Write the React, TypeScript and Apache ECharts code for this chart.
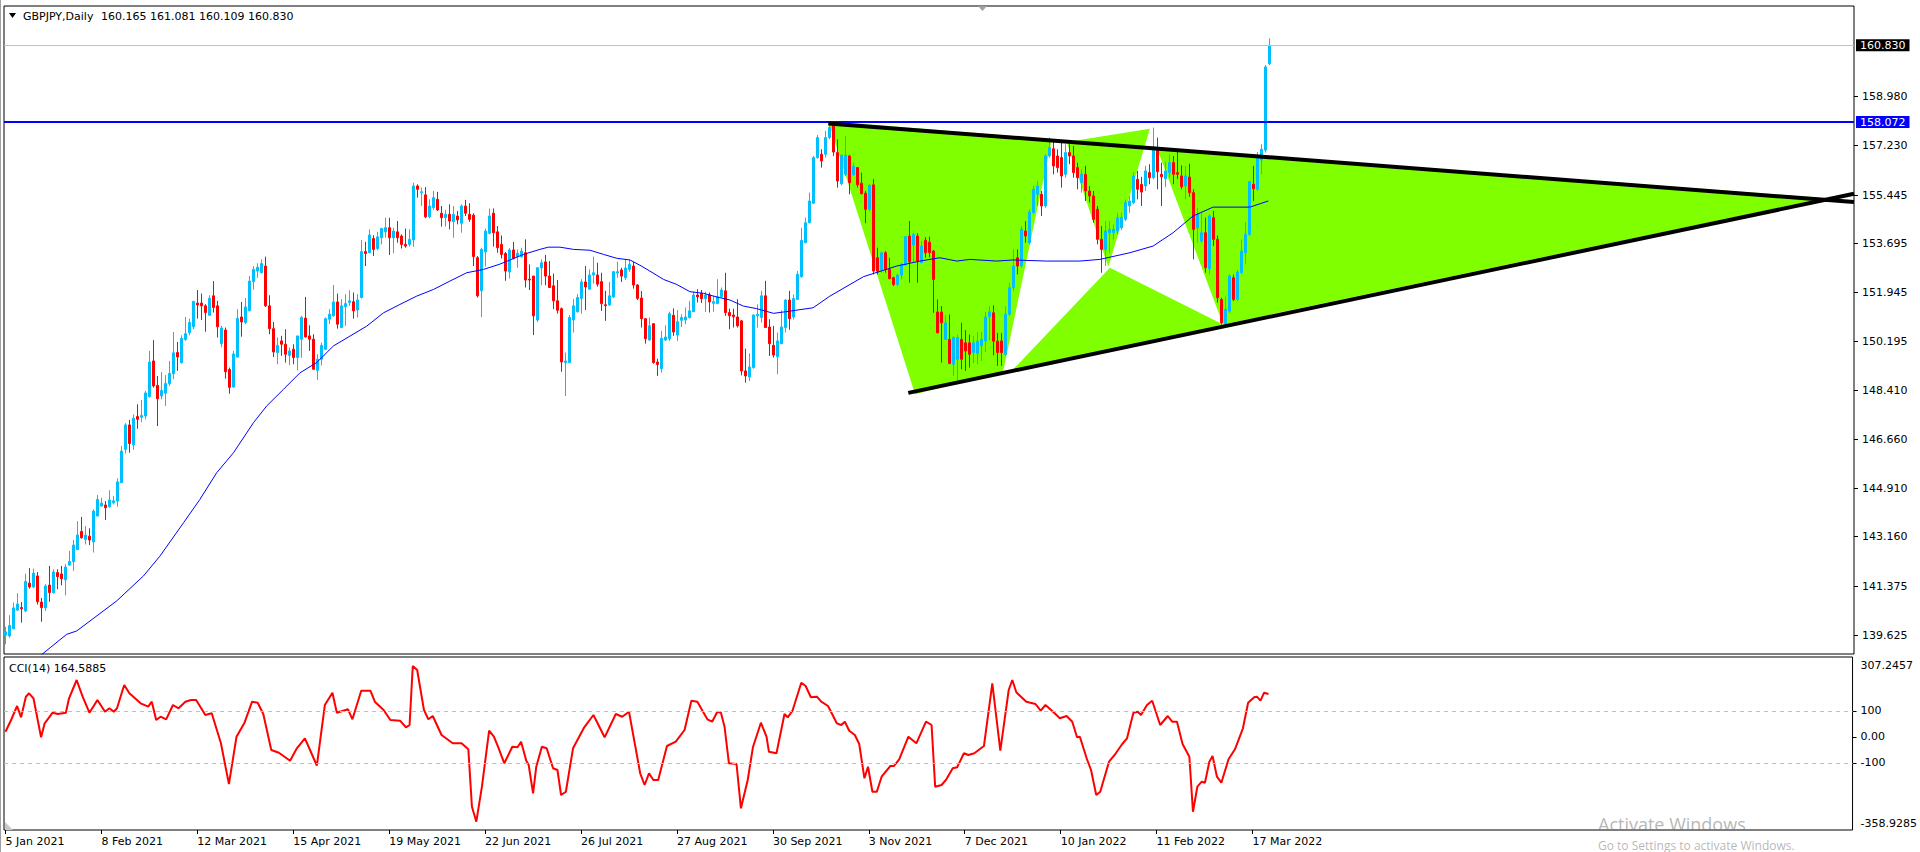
import React, { useEffect, useRef } from 'react';
import * as echarts from 'echarts';

const FONT = 'DejaVu Sans';
const symbolTitle = 'GBPJPY,Daily';
const lastOHLC = [160.165, 161.081, 160.109, 160.83];
const cciTitle = 'CCI(14)';
const cciLast = 164.5885;

const dateLabels = ['5 Jan 2021', '8 Feb 2021', '12 Mar 2021', '15 Apr 2021', '19 May 2021', '22 Jun 2021', '26 Jul 2021', '27 Aug 2021', '30 Sep 2021', '3 Nov 2021', '7 Dec 2021', '10 Jan 2022', '11 Feb 2022', '17 Mar 2022'];
const BARS_PER_LABEL = 24;
const priceTicks = [158.98, 157.23, 155.445, 153.695, 151.945, 150.195, 148.41, 146.66, 144.91, 143.16, 141.375, 139.625];
const cciTicks = [100, 0, -100];
const CCI_MAX = 307.2457;
const CCI_MIN = -358.9285;
const P_MIN = 138.942;
const P_MAX = 162.241;
const X_MIN = -0.375;
const X_MAX = 462.125;
const resistance = 158.072;
const bidPrice = 160.83;

// candles by bar index: [open, high, low, close]
const candles: number[][] = [
  [139.62,139.92,139.29,139.74],[139.59,140.34,139.53,139.97],[139.85,140.79,139.83,140.60],[140.52,141.13,140.49,140.74],
  [140.61,140.81,140.07,140.57],[140.49,141.83,140.45,141.55],[141.49,142.03,141.29,141.35],[141.35,142.01,141.31,141.85],
  [141.75,141.89,140.72,140.82],[140.81,140.96,140.10,140.61],[140.60,141.45,140.49,141.39],[141.42,142.11,140.82,141.15],
  [141.15,141.99,141.11,141.89],[141.87,141.99,141.27,141.72],[141.82,142.11,141.41,141.65],[141.61,142.17,141.05,142.07],
  [142.14,142.65,142.11,142.27],[142.26,143.04,141.93,142.86],[142.70,143.72,142.68,143.22],[143.35,143.87,143.09,143.12],
  [143.06,143.54,142.88,143.22],[143.18,143.46,142.86,143.04],[142.97,144.14,142.59,144.08],[143.90,144.66,143.90,144.50],
  [144.26,144.56,144.24,144.37],[144.30,144.44,143.76,144.20],[144.24,144.83,144.20,144.48],[144.38,144.62,144.32,144.45],
  [144.44,145.26,144.24,145.13],[145.10,146.42,145.10,146.24],[146.30,147.24,146.15,147.18],[147.18,147.36,146.18,146.51],
  [146.46,147.56,146.28,147.42],[147.48,147.92,147.04,147.38],[147.45,148.08,147.28,147.52],[147.50,148.40,147.38,148.33],
  [148.20,149.84,148.16,149.44],[149.48,150.23,148.52,148.58],[148.60,148.94,147.14,148.12],[148.22,149.08,148.10,148.42],
  [148.32,148.97,147.86,148.67],[148.66,149.48,148.58,149.03],[149.02,150.52,148.82,149.77],[149.78,150.16,149.12,149.62],
  [149.42,150.40,149.38,150.29],[150.25,151.06,150.20,150.46],[150.50,151.00,150.40,150.86],[150.71,151.64,150.62,151.62],
  [151.56,152.03,151.00,151.49],[151.56,151.90,150.95,151.46],[151.46,151.52,150.53,151.22],[151.12,151.84,151.10,151.73],
  [151.82,152.35,151.22,151.40],[151.46,151.64,150.32,150.71],[150.10,150.74,149.97,150.66],[150.59,150.68,148.84,149.09],
  [149.17,149.24,148.30,148.53],[148.54,149.84,148.52,149.73],[149.62,151.34,149.60,151.01],[151.06,151.60,150.35,150.88],
  [150.86,151.74,150.80,151.42],[151.28,152.53,151.27,152.35],[152.33,152.89,152.04,152.77],[152.71,152.99,152.47,152.85],
  [152.65,153.13,152.63,152.98],[152.89,153.23,151.42,151.46],[151.46,151.84,150.44,150.64],[150.64,150.88,149.62,149.80],
  [149.78,150.32,149.36,150.04],[150.20,150.38,149.66,150.08],[150.08,150.62,149.42,149.72],[149.68,149.96,149.33,149.84],
  [149.90,150.08,149.36,149.60],[149.60,150.38,149.14,150.38],[150.26,151.10,149.60,151.04],[151.02,151.78,150.32,150.34],
  [150.38,150.76,149.84,150.26],[150.26,150.44,149.16,149.18],[149.14,149.72,148.80,149.54],[149.54,150.14,149.32,150.04],
  [149.90,151.04,149.87,151.00],[150.98,151.34,150.80,151.16],[151.10,152.21,151.07,151.60],[151.60,151.90,150.64,150.80],
  [150.68,151.70,150.68,151.46],[151.43,151.88,150.74,151.54],[151.58,152.02,151.46,151.64],[151.61,151.94,151.00,151.28],
  [151.31,151.88,151.04,151.67],[151.76,153.83,151.72,153.41],[153.41,153.76,152.89,153.34],[153.37,154.21,153.37,154.01],
  [153.88,154.00,153.25,153.49],[153.52,154.12,153.46,153.94],[153.91,154.27,153.67,154.24],[154.12,154.63,153.91,154.27],
  [154.27,154.63,153.29,153.91],[153.91,154.27,153.35,154.15],[154.12,154.51,153.73,153.91],[153.97,154.03,153.52,153.67],
  [153.67,154.24,153.55,153.61],[153.67,154.21,153.59,153.85],[153.83,155.89,153.58,155.77],[155.77,155.83,155.35,155.65],
  [155.53,155.71,155.05,155.56],[155.45,155.73,154.61,154.66],[154.66,155.29,154.61,155.05],[154.99,155.59,154.91,155.35],
  [155.29,155.56,154.87,154.91],[154.79,155.05,154.31,154.63],[154.63,154.91,154.31,154.75],[154.75,155.11,154.21,154.51],
  [154.49,155.05,153.91,154.75],[154.69,154.87,154.39,154.55],[154.43,155.11,154.09,155.05],[155.05,155.27,154.69,154.79],
  [154.75,155.15,154.48,154.57],[154.72,154.79,152.89,153.23],[153.19,153.25,151.76,151.82],[152.00,153.55,151.06,153.49],
  [153.40,154.24,152.87,154.15],[154.07,154.96,154.03,154.69],[154.79,154.96,153.59,154.09],[154.12,154.33,153.37,153.55],
  [153.67,153.99,153.16,153.31],[153.34,153.40,152.36,152.71],[152.68,153.54,152.44,153.47],[153.47,153.76,153.13,153.16],
  [153.23,153.49,152.83,153.35],[153.23,153.55,153.19,153.43],[153.37,153.85,152.12,152.39],[152.42,152.95,152.03,152.39],
  [152.53,152.53,150.41,151.10],[150.95,152.86,150.88,152.83],[152.82,153.13,152.20,153.01],[153.04,153.29,152.20,152.53],
  [152.53,153.07,152.10,152.12],[152.18,152.62,151.34,151.64],[151.64,152.39,151.18,151.30],[151.36,151.40,149.09,149.44],
  [149.42,149.78,148.22,149.48],[149.42,151.13,149.40,151.04],[150.95,151.70,150.50,151.46],[151.25,151.88,151.22,151.76],
  [151.73,152.42,151.18,152.32],[152.32,152.89,151.31,152.14],[152.06,152.77,152.06,152.57],[152.57,153.23,152.26,152.65],
  [152.57,153.01,152.15,152.24],[152.33,152.65,151.28,151.54],[151.50,152.00,150.92,151.47],[151.49,152.32,151.46,151.82],
  [151.78,152.71,151.74,152.69],[152.64,153.04,152.47,152.69],[152.75,152.83,152.32,152.53],[152.47,153.13,152.39,152.82],
  [152.77,153.11,152.68,152.95],[152.89,153.04,152.08,152.21],[152.21,152.24,151.67,151.73],[151.74,151.99,150.68,151.00],
  [151.00,151.00,150.10,150.28],[150.23,151.04,150.20,150.74],[150.82,150.82,149.38,149.42],[149.44,149.56,148.94,149.35],
  [149.20,150.56,149.06,150.29],[150.23,150.76,150.20,150.34],[150.28,151.25,150.20,151.18],[151.12,151.37,150.38,150.52],
  [150.41,151.31,150.20,150.89],[150.94,151.16,150.70,151.04],[150.95,151.40,150.80,151.06],[151.04,151.64,151.00,151.28],
  [151.25,151.97,151.24,151.85],[151.85,152.06,151.58,151.78],[151.91,152.03,151.56,151.72],[151.72,151.97,151.24,151.85],
  [151.85,151.94,151.22,151.60],[151.55,151.82,151.25,151.61],[151.54,152.42,151.52,151.79],[151.79,152.12,151.76,152.03],
  [152.00,152.65,151.10,151.22],[151.22,151.36,150.62,151.10],[151.13,151.36,150.68,151.07],[151.06,151.70,150.68,150.74],
  [150.92,150.95,148.96,149.12],[149.12,149.92,148.70,148.94],[148.90,149.75,148.76,149.26],[149.24,151.16,149.20,151.13],
  [151.10,151.52,150.68,151.16],[151.04,152.00,150.86,151.82],[151.82,152.36,150.68,150.68],[150.70,150.98,149.66,150.10],
  [150.04,150.74,149.60,149.69],[149.63,150.50,149.00,150.20],[150.10,151.30,150.08,150.70],[150.68,151.70,150.50,151.67],
  [151.67,152.00,150.60,151.00],[151.06,151.87,150.97,151.72],[151.69,152.71,151.67,152.59],[152.51,154.27,152.47,153.81],
  [153.73,154.63,153.71,154.45],[154.45,155.53,154.43,155.23],[155.15,156.85,155.13,156.79],[156.79,157.60,156.75,157.51],
  [156.91,157.09,156.43,156.67],[156.91,157.75,156.79,157.51],[157.51,158.02,157.45,157.87],[157.99,158.05,156.85,156.99],
  [156.97,157.45,155.71,155.95],[155.85,156.91,155.79,156.87],[156.19,157.57,156.13,156.87],[156.85,156.87,155.47,155.89],
  [156.17,156.61,156.13,156.47],[156.43,156.45,155.71,155.81],[155.87,156.25,155.47,155.49],[155.51,155.59,154.43,154.93],
  [154.93,155.83,154.87,155.79],[155.81,156.01,152.59,152.71],[153.19,153.55,152.59,152.71],[152.75,153.40,152.65,153.37],
  [153.37,153.43,152.65,152.77],[152.77,153.19,152.41,152.44],[152.47,152.51,152.17,152.23],[152.23,152.60,152.17,152.57],
  [152.57,153.01,152.41,152.95],[152.93,153.97,152.89,153.95],[153.97,154.51,152.29,153.04],[153.64,154.09,153.04,154.03],
  [153.97,154.07,152.29,153.07],[153.01,153.79,152.99,153.61],[153.82,153.93,153.19,153.37],[153.75,153.95,153.20,153.37],
  [153.43,153.47,151.21,152.41],[151.24,151.69,150.47,150.49],[151.24,151.45,149.42,150.85],[150.25,151.12,150.25,150.85],
  [150.25,151.15,149.36,149.39],[149.36,150.37,148.94,150.32],[149.54,150.43,148.76,150.32],[150.25,150.85,149.18,149.54],
  [150.13,150.59,149.12,149.84],[150.13,150.43,149.24,149.72],[149.78,150.37,149.39,150.13],[149.75,150.52,149.36,150.19],
  [150.02,150.52,149.48,150.25],[150.19,151.24,149.80,151.06],[151.07,151.45,150.23,151.24],[151.21,151.48,149.68,150.19],
  [150.19,150.49,149.30,149.78],[150.20,150.49,149.30,149.78],[149.72,151.45,149.66,151.16],[151.16,152.29,151.09,152.11],
  [152.11,153.49,151.99,152.89],[153.19,153.49,152.59,152.89],[152.89,154.33,152.83,154.21],[154.15,154.51,153.73,153.97],
  [153.73,154.93,153.67,154.83],[154.81,155.77,154.75,155.65],[155.47,155.95,155.05,155.77],[155.47,155.59,154.69,155.05],
  [155.05,156.91,154.99,156.85],[156.85,157.51,156.79,157.15],[157.11,157.45,156.19,156.49],[156.85,157.09,156.25,156.43],
  [156.79,157.33,155.71,156.13],[156.19,157.27,156.07,156.97],[156.97,157.27,156.55,156.85],[156.85,157.21,156.07,156.25],
  [156.43,156.61,155.65,156.07],[155.89,156.37,155.53,156.19],[156.19,156.49,155.23,155.59],[155.59,155.77,155.17,155.41],
  [155.41,155.59,154.45,154.57],[154.93,155.05,153.67,153.85],[153.85,154.33,152.65,153.49],[153.49,154.51,152.89,154.15],
  [154.09,154.51,153.37,154.21],[154.09,154.39,153.85,154.21],[154.15,154.81,154.03,154.63],[154.27,154.81,154.19,154.63],
  [154.57,155.29,154.51,155.17],[155.05,155.41,154.81,155.23],[155.17,156.27,155.11,156.13],[156.01,156.31,155.29,155.65],
  [155.83,156.10,155.05,155.55],[155.77,156.49,155.59,156.31],[156.25,156.55,155.83,156.07],
  [156.07,157.87,156.01,157.09],[157.06,157.51,155.65,156.28],[156.19,156.61,155.05,156.10],[156.03,156.63,155.73,156.31],
  [156.25,156.91,156.07,156.61],[156.61,156.85,155.83,156.19],[156.25,157.06,156.01,156.19],[156.13,156.51,155.65,155.74],
  [155.77,156.49,155.29,156.13],[156.09,156.57,155.38,155.53],[155.53,155.65,153.13,154.21],[154.27,154.99,153.73,154.75],
  [153.79,154.81,153.73,154.09],[154.09,154.63,152.65,152.83],[152.79,154.75,152.59,154.69],[154.63,154.87,153.61,153.85],
  [153.85,153.99,151.57,151.75],[151.69,151.75,150.79,150.85],[150.82,151.79,150.77,151.33],[151.27,152.59,151.21,152.53],
  [152.47,152.59,151.63,151.69],[151.69,152.75,151.63,152.67],[152.65,153.85,152.59,153.43],[153.37,154.47,152.95,154.03],
  [154.03,155.95,153.97,155.92],[155.83,156.49,155.23,155.67],[155.65,156.99,155.59,156.79],[156.70,157.27,156.19,157.09],
  [157.06,160.12,156.97,160.05],[160.165,161.081,160.109,160.83],
];

// moving average read at [bar, price]
const maPoints = [
  [0,137.9],[8.6,138.87],[15.3,139.65],[17.8,139.77],[27.8,140.85],[34.5,141.75],[38.6,142.46],[44.5,143.66],[48.6,144.5],
  [52.8,145.46],[57,146.18],[62,147.26],[65.3,147.86],[69.5,148.46],[73.6,149.05],[77.8,149.42],[82,150.02],[86.1,150.37],
  [90.3,150.73],[94.5,151.21],[98.6,151.51],[102.8,151.81],[107,152.05],[111.1,152.35],[115.3,152.65],[119.5,152.77],
  [123.6,152.96],[129.5,153.31],[133.6,153.49],[135.7,153.57],[138.6,153.57],[142,153.49],[146.1,153.46],[149.5,153.31],
  [152.8,153.17],[156.1,153.11],[158.6,152.92],[161.1,152.71],[164.5,152.41],[167.8,152.23],[171.1,151.97],[174.5,151.91],
  [177.8,151.78],[181.1,151.67],[184.5,151.45],[187.8,151.36],[192,151.19],[196.1,151.27],[201.9,151.39],[206.1,151.81],
  [214.5,152.51],[222.8,152.89],[228.6,153.07],[233.6,153.19],[237.8,153.07],[241.1,153.13],[247.8,153.07],[251.9,153.11],
  [260.3,153.07],[268.6,153.07],[273.6,153.13],[281.1,153.37],[286.9,153.61],[291.9,154.09],[296.9,154.69],[301.9,155.01],
  [311.1,155.01],[315.7,155.23],
];

const cciPoints = [
  [0,19.6],[1.4,64.6],[2.9,118.6],[3.9,75],[5.1,154.4],[5.9,167.5],[7,148.2],[8.9,-2],[9.8,51.9],[11.8,92.8],[13.1,87.8],
  [15.1,92.8],[15.9,148.2],[17.8,218.7],[19.3,154.4],[21,92.8],[23,141.7],[24.9,96.6],[26,109.7],[27.1,96.6],[27.9,109.7],
  [29.7,199.4],[31,167.5],[33.8,128.9],[35.7,115.9],[36.6,135.1],[37.7,64.6],[38.8,77.3],[40.2,67.3],[41.9,122.4],[43.3,109.7],
  [45,135.1],[46.4,141.7],[47.7,141.7],[50,83.9],[51.6,90.4],[53.9,-25.1],[55.9,-181.8],[57.8,0.3],[59.8,54.2],[61.7,135.1],
  [63.1,131.3],[64.5,87.8],[66.5,-50.9],[68.4,-61.3],[71.2,-92.1],[72.9,-44.3],[74.9,-5.8],[76.2,-50.9],[77.9,-111.3],
  [79.9,122.4],[81.8,169.8],[82.9,92.8],[85.7,105.8],[86.8,67.3],[89,177.5],[91.3,177.5],[92.4,135.1],[94.6,103.2],[96.3,64.6],
  [98.7,62],[100.2,36.6],[101.1,45.4],[101.9,272.6],[103,257.2],[104.7,103.2],[105.8,67.3],[106.9,80.1],[109.1,6.9],
  [111.9,-25.1],[114.1,-25.1],[115.8,-48.2],[116.7,-269.2],[117.8,-327],[119.2,-192.2],[121,23.4],[122.2,0.3],[123.3,-40.5],
  [124.8,-102.1],[126.8,-38.2],[128.1,-40.5],[129,-18.9],[130.3,-92.1],[130.9,-108.6],[132,-217.6],[132.8,-115.2],[134.2,-38.2],
  [135.4,-44.3],[137,-121.3],[138.1,-127.9],[139,-224.2],[140.2,-211.5],[142,-44.3],[144.8,36.6],[147.1,83.9],[149.9,-2],
  [152.7,87.8],[154.3,77.3],[156,96.6],[158.8,-140.6],[159.9,-185.6],[161,-140.6],[162.1,-166.4],[163.3,-166.4],[165.5,-35.5],
  [167.7,-18.9],[169.9,26.1],[171.6,139],[173.1,135.1],[175.6,67.3],[176.8,58.1],[178.1,96.6],[179,92.8],[179.9,38.8],
  [181,-102.1],[182.9,-104.8],[184,-275.4],[185.7,-166.4],[187,-40.5],[189,54.2],[190.4,0.3],[191,-57.4],[192.9,-63.6],
  [194.9,87.8],[195.7,75],[196.9,100.5],[199.1,208.3],[200.2,195.6],[201.5,152.1],[203,154.4],[204.1,135.1],[205.8,118.6],
  [208,51.9],[209.1,45.4],[210,58.1],[211.1,23.4],[212.5,6.9],[213.6,-27.8],[214.9,-159.9],[215.8,-115.2],[216.9,-211.5],
  [218,-211.5],[219.2,-153.7],[221.4,-112.5],[222.3,-112.5],[223.6,-86.7],[225.9,0.3],[227.9,-25.1],[230.3,58.1],[231.7,45.4],
  [232.6,-192.2],[234.2,-185.6],[235.4,-163.7],[237,-121.3],[238.1,-117.5],[239.8,-63.6],[240.9,-70.1],[242.4,-63.6],
  [244.8,-35.5],[246.9,206],[248.9,-53.6],[251,180.2],[251.9,218.7],[252.9,171.3],[255.4,135.1],[257.7,126.3],[259,100.5],
  [260.2,122.4],[262.1,96.6],[263.8,71.2],[265.5,80.1],[266.9,58.1],[268.1,-2],[268.8,0.3],[270.5,-82.9],[271.6,-127.9],
  [272.9,-224.2],[273.9,-211.5],[276.1,-95.9],[277.8,-63.6],[279.4,-27.8],[280.6,-5.8],[282.2,92.8],[283.3,96.6],[284.1,83.9],
  [285.6,122.4],[286.9,139],[288.9,45.4],[290.8,80.1],[291.9,58.1],[293.1,58.1],[294.5,-27.8],[296.2,-76.7],[297.1,-288.5],
  [298.2,-192.2],[299.3,-172.9],[300.1,-176.8],[301.2,-95.9],[302,-74],[303.1,-153.7],[304.2,-176.8],[306,-86.7],[307.6,-48.2],
  [309.6,32.7],[310.9,131.3],[312.4,152.1],[313.1,154.4],[314,139],[314.9,169.8],[316,164.6],
];

// drawn objects: [bar, price]
const upperTrend = [[205.7, 158.02], [462.125, 155.19]];
const lowerTrend = [[225.7, 148.33], [462.125, 155.49]];
const greenAreas = [
  [[205.7, 158.11], [227.4, 148.28], [249.4, 149.09], [261.6, 157.45]],
  [[265.3, 157.35], [275.7, 152.86], [286.1, 157.83]],
  [[251.1, 149.05], [276.1, 152.83], [304.4, 150.79]],
  [[287.9, 157.11], [304.4, 150.79], [454.9, 155.34]],
];

const G_LEFT = 4;
const G_WIDTH = 1850;
const MAIN_TOP = 6;
const MAIN_H = 648;
const CCI_TOP = 657;
const CCI_H = 173;

function buildOption() {
  const candleData = candles.map((c, i) => [i, c[0], c[3], c[2], c[1]]);
  const dateTickValues = dateLabels.map((_, i) => i * BARS_PER_LABEL);
  const cciLabelValues = [CCI_MAX, ...cciTicks, CCI_MIN];
  const txt = { fontFamily: FONT, fontSize: 11, color: '#000' };

  return {
    animation: false,
    backgroundColor: '#ffffff',
    textStyle: { fontFamily: FONT, fontSize: 11 },
    grid: [
      { left: G_LEFT, top: MAIN_TOP, width: G_WIDTH, height: MAIN_H, show: true, borderColor: '#000', borderWidth: 1, backgroundColor: 'transparent' },
      { left: G_LEFT, top: CCI_TOP, width: G_WIDTH, height: CCI_H, show: true, borderColor: '#000', borderWidth: 1, backgroundColor: 'transparent' },
    ],
    xAxis: [
      { type: 'value', gridIndex: 0, min: X_MIN, max: X_MAX, show: false, axisLine: { onZero: false } },
      {
        type: 'value', gridIndex: 1, min: X_MIN, max: X_MAX, position: 'bottom',
        axisLine: { show: false, onZero: false }, splitLine: { show: false },
        axisTick: { show: true, customValues: dateTickValues, length: 4, lineStyle: { color: '#000' } },
        axisLabel: { ...txt, customValues: dateTickValues, align: 'left', margin: 6,
          formatter: (v: number) => dateLabels[Math.round(v / BARS_PER_LABEL)] ?? '' },
      },
    ],
    yAxis: [
      {
        type: 'value', gridIndex: 0, position: 'right', min: P_MIN, max: P_MAX,
        axisLine: { show: false, onZero: false }, splitLine: { show: false },
        axisTick: { show: true, customValues: priceTicks, length: 4, lineStyle: { color: '#000' } },
        axisLabel: { ...txt, customValues: priceTicks, margin: 8, formatter: (v: number) => v.toFixed(3) },
      },
      {
        type: 'value', gridIndex: 1, position: 'right', min: CCI_MIN, max: CCI_MAX,
        axisLine: { show: false, onZero: false }, splitLine: { show: false },
        axisTick: { show: true, customValues: cciTicks, length: 4, lineStyle: { color: '#000' } },
        axisLabel: {
          ...txt, customValues: cciLabelValues, margin: 8,
          formatter: (v: number) => {
            if (v === CCI_MAX) return '{t|' + CCI_MAX.toFixed(4) + '}';
            if (v === CCI_MIN) return '{b|' + CCI_MIN.toFixed(4) + '}';
            if (v === 0) return '0.00';
            return String(v);
          },
          rich: {
            t: { fontFamily: FONT, fontSize: 11, color: '#000', padding: [16, 0, 0, 0] },
            b: { fontFamily: FONT, fontSize: 11, color: '#000', padding: [0, 0, 14, 0] },
          },
        },
      },
    ],
    series: [
      {
        type: 'custom', xAxisIndex: 0, yAxisIndex: 0, z: 1, silent: true, clip: true,
        data: greenAreas.map((p, i) => [p[0][0], p[0][1], i]),
        renderItem: (params: any, api: any) => {
          const poly = greenAreas[params.dataIndex];
          return { type: 'polygon', shape: { points: poly.map((pt) => api.coord(pt)) }, style: { fill: '#7FFF00' } };
        },
      },
      {
        type: 'candlestick', xAxisIndex: 0, yAxisIndex: 0, z: 3, silent: true,
        dimensions: ['x', 'open', 'close', 'low', 'high'],
        encode: { x: 'x', y: ['open', 'close', 'low', 'high'] },
        barWidth: 2,
        data: candleData,
        itemStyle: { color: '#00BFFF', color0: '#FF0000', borderColor: '#00BFFF', borderColor0: '#FF0000', borderColorDoji: '#00BFFF', borderWidth: 1 },
      },
      {
        type: 'line', xAxisIndex: 0, yAxisIndex: 0, z: 4, silent: true, showSymbol: false, symbol: 'none',
        data: maPoints, lineStyle: { color: '#0000FF', width: 1 },
        markLine: {
          silent: true, symbol: 'none',
          data: [
            { yAxis: bidPrice, lineStyle: { color: '#C0C0C0', width: 1, type: 'solid' },
              label: { show: true, position: 'end', distance: 2, formatter: bidPrice.toFixed(3), color: '#fff', backgroundColor: '#000', padding: [1, 4, 0, 4], fontFamily: FONT, fontSize: 11 } },
            { yAxis: resistance, lineStyle: { color: '#0000FF', width: 2, type: 'solid' },
              label: { show: true, position: 'end', distance: 2, formatter: resistance.toFixed(3), color: '#fff', backgroundColor: '#0000FF', padding: [1, 4, 0, 4], fontFamily: FONT, fontSize: 11 } },
          ],
        },
      },
      {
        type: 'line', xAxisIndex: 0, yAxisIndex: 0, z: 5, silent: true, symbol: 'none',
        data: upperTrend, lineStyle: { color: '#000', width: 4 },
      },
      {
        type: 'line', xAxisIndex: 0, yAxisIndex: 0, z: 5, silent: true, symbol: 'none',
        data: lowerTrend, lineStyle: { color: '#000', width: 4 },
      },
      {
        type: 'line', xAxisIndex: 1, yAxisIndex: 1, z: 3, silent: true, symbol: 'none',
        data: cciPoints, lineStyle: { color: '#FF0000', width: 2 },
        markLine: {
          silent: true, symbol: 'none', label: { show: false },
          lineStyle: { color: '#C0C0C0', width: 1, type: [4, 4] },
          data: [{ yAxis: 100 }, { yAxis: -100 }],
        },
      },
    ],
    graphic: [
      { type: 'line', shape: { x1: 0.5, y1: 0, x2: 0.5, y2: 852 }, style: { stroke: '#A0A0A0', lineWidth: 1 } },
      { type: 'polygon', shape: { points: [[9, 13], [16, 13], [12.5, 18]] }, style: { fill: '#000' } },
      { type: 'text', x: 23, y: 16, style: { text: symbolTitle, font: `11px "${FONT}"`, fill: '#000', verticalAlign: 'middle' } },
      { type: 'text', x: 101, y: 16, style: { text: lastOHLC.map((v) => v.toFixed(3)).join(' '), font: `11px "${FONT}"`, fill: '#000', verticalAlign: 'middle' } },
      { type: 'polygon', shape: { points: [[978, 6], [987, 6], [982.5, 11]] }, style: { fill: '#A0A0A0' } },
      { type: 'text', x: 9, y: 668, style: { text: `${cciTitle} ${cciLast.toFixed(4)}`, font: `11px "${FONT}"`, fill: '#000', verticalAlign: 'middle' } },
      { type: 'polygon', shape: { points: [[5, 822], [5, 830], [13, 830]] }, style: { fill: '#C8C8C8' } },
      { type: 'text', x: 1598, y: 824, style: { text: 'Activate Windows', font: '18px "Open Sans"', fill: 'rgba(120,120,120,0.55)', verticalAlign: 'middle' } },
      { type: 'text', x: 1598, y: 845, style: { text: 'Go to Settings to activate Windows.', font: '12px "Open Sans"', fill: 'rgba(120,120,120,0.55)', verticalAlign: 'middle' } },
    ],
  };
}

export default function App() {
  const ref = useRef<HTMLDivElement>(null);
  useEffect(() => {
    document.body.style.margin = '0';
    const chart = echarts.init(ref.current as HTMLDivElement, null, { renderer: 'svg' });
    chart.setOption(buildOption() as any);
    return () => chart.dispose();
  }, []);
  return <div ref={ref} style={{ width: 1920, height: 852, position: 'absolute', left: 0, top: 0 }} />;
}
